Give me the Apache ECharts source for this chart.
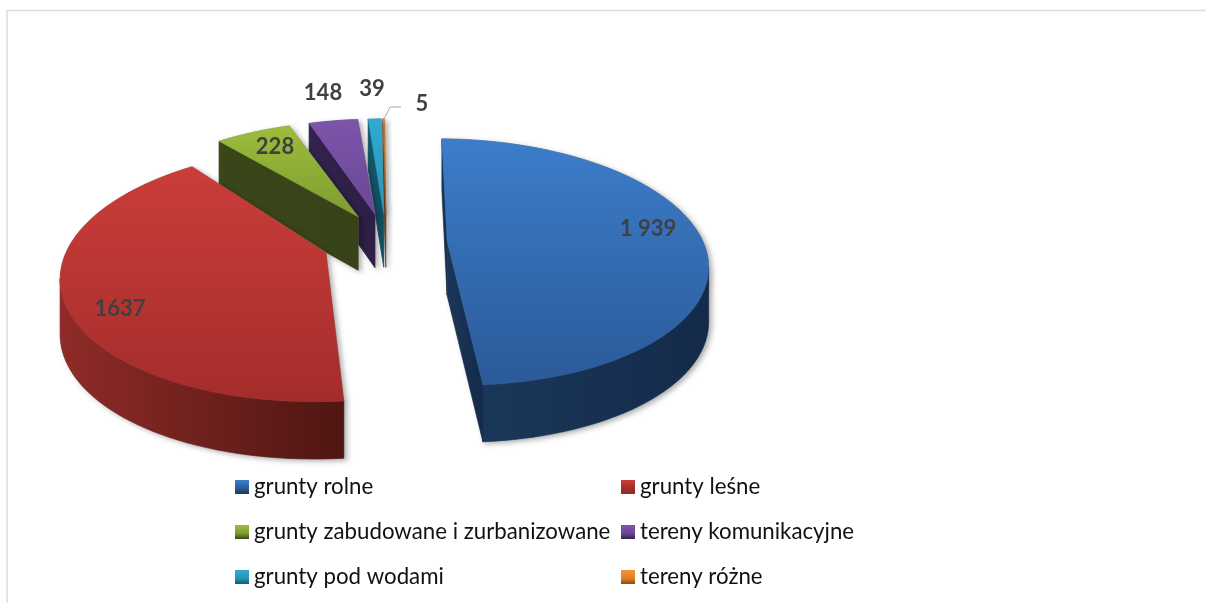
<!DOCTYPE html>
<html>
<head>
<meta charset="utf-8">
<style>
  html, body { margin: 0; padding: 0; background: #fff; }
  #chart { width: 1206px; height: 603px; }
</style>
<script src="https://cdn.jsdelivr.net/npm/echarts@6/dist/echarts.min.js"></script>
</head>
<body>
<div id="chart"></div>
<script>
  var categories = ['grunty rolne', 'grunty leśne', 'grunty zabudowane i zurbanizowane', 'tereny komunikacyjne', 'grunty pod wodami', 'tereny różne'];
  var values = [1939, 1637, 228, 148, 39, 5];
  var valueLabels = ['1 939', '1637', '228', '148', '39', '5'];

  // kolory: gora plasterka, sciana
  var topColors = [['#3c7dca', '#2b5a98'], ['#cb3d39', '#a32d2b'], ['#9cbd3c', '#7f9c30'], ['#7d55aa', '#6a4794'], ['#2fabd0', '#2a94b5'], ['#f59336', '#e07f26']];
  var wallColors = [['#1a3759', '#142a4a'], ['#8f2b28', '#4f1612'], ['#3a4618', '#37421a'], ['#33234e', '#2c1e44'], ['#125c70', '#0f4f60'], ['#8a4c14', '#8a4c14']];
  var labelPos = [[648, 229], [120, 309], [275, 147], [323, 93], [372, 89], [422, 104]];
  var legendPos = [[235, 476], [621, 476], [235, 521], [621, 521], [235, 566], [621, 566]];
  // perspektywa Excela lekko obraca tylne plasterki (stopnie)
  var sliceTurn = [0, -1.2, -3.5, -2.1, -1.3, -1.3];

  // rzut perspektywiczny (jak wykres 3D w Excelu)
  var cx = 385, cy = 242, rx = 256, ry = 120, persp = 0.17, explode = 0.243, startDeg = 1;

  var total = values.reduce(function (a, b) { return a + b; }, 0);

  function project(deg, midDeg, r) {
    var t = deg * Math.PI / 180, m = midDeg * Math.PI / 180;
    var u = explode * Math.sin(m) + r * Math.sin(t);
    var v = -explode * Math.cos(m) - r * Math.cos(t);
    var w = 1 - persp * v;
    return { x: cx + rx * u / w, y: cy + ry * v / w, d: 54 + 3 * v };
  }

  function grad(c, horizontal) {
    return {
      type: 'linear', x: 0, y: 0, x2: horizontal ? 1 : 0, y2: horizontal ? 0 : 1,
      colorStops: [{ offset: 0, color: c[0] }, { offset: 1, color: c[1] }]
    };
  }

  function poly(points, fill, shadow) {
    var style = { fill: fill, stroke: fill, lineWidth: 0.5 };
    if (shadow) {
      style.shadowBlur = 5;
      style.shadowColor = 'rgba(0,0,0,0.3)';
      style.shadowOffsetX = 3;
      style.shadowOffsetY = 2;
    }
    return { type: 'polygon', shape: { points: points }, style: style };
  }

  function sliceItem(index) {
    return function (params, api) {
      var before = 0;
      for (var i = 0; i < index; i++) before += values[i];
      var a0 = startDeg + sliceTurn[index] + before / total * 360;
      var a1 = a0 + api.value(0) / total * 360;
      var mid = (a0 + a1) / 2 - sliceTurn[index];

      var apex = project(mid, mid, 0);
      var arc = [];
      var steps = Math.max(2, Math.ceil((a1 - a0) / 2));
      for (var s = 0; s <= steps; s++) arc.push(project(a0 + (a1 - a0) * s / steps, mid, 1));

      var topPts = [[apex.x, apex.y]].concat(arc.map(function (p) { return [p.x, p.y]; }));

      // sciany widoczne to te krawedzie, ktore ida w lewo
      var walls = [];
      function addWall(list) {
        var pts = [];
        list.forEach(function (p) { pts.push([p.x, p.y]); });
        list.slice().reverse().forEach(function (p) { pts.push([p.x, p.y + p.d]); });
        walls.push(pts);
      }
      var first = arc[0], last = arc[arc.length - 1];
      if (first.x < apex.x) addWall([apex, first]);
      var run = [];
      for (var k = 0; k < arc.length - 1; k++) {
        if (arc[k + 1].x < arc[k].x) {
          if (!run.length) run.push(arc[k]);
          run.push(arc[k + 1]);
        }
      }
      if (run.length) addWall(run);
      if (apex.x < last.x) addWall([last, apex]);

      var children = [];
      walls.forEach(function (w) { children.push(poly(w, '#777', true)); });
      children.push(poly(topPts, '#777', true));
      walls.forEach(function (w) { children.push(poly(w, grad(wallColors[index], true))); });
      children.push(poly(topPts, grad(topColors[index])));

      children.push({
        type: 'text',
        style: {
          x: labelPos[index][0], y: labelPos[index][1], text: valueLabels[index],
          align: 'center', verticalAlign: 'middle',
          font: 'bold 22px Lato', fill: '#404040'
        }
      });
      if (index === 5) {
        children.push({
          type: 'polyline',
          shape: { points: [[last.x, last.y - 1], [390, 107], [401, 107]] },
          style: { fill: 'none', stroke: '#a6a6a6', lineWidth: 1 }
        });
      }
      return { type: 'group', children: children };
    };
  }

  // rysowane od tylu do przodu
  var order = [5, 4, 3, 2, 1, 0];
  var series = order.map(function (i) {
    return {
      type: 'custom',
      name: categories[i],
      coordinateSystem: 'none',
      silent: true,
      data: [[values[i]]],
      itemStyle: { color: topColors[i][0] },
      renderItem: sliceItem(i)
    };
  });

  var legends = categories.map(function (name, i) {
    return {
      left: legendPos[i][0], top: legendPos[i][1],
      padding: 0, itemWidth: 14, itemHeight: 14,
      icon: 'rect', selectedMode: false,
      data: [{
        name: name,
        itemStyle: {
          color: {
            type: 'linear', x: 0, y: 0, x2: 0, y2: 1,
            colorStops: [{ offset: 0, color: topColors[i][0] }, { offset: 0.6, color: topColors[i][1] }, { offset: 1, color: wallColors[i][0] }]
          }
        }
      }],
      textStyle: { fontFamily: 'Lato', fontSize: 22.25, color: '#111' }
    };
  });

  var myChart = echarts.init(document.getElementById('chart'));
  myChart.setOption({
    animation: false,
    backgroundColor: '#fff',
    legend: legends,
    series: series,
    graphic: [
      { type: 'polyline', shape: { points: [[7, 603], [7, 10.5], [1206, 10.5]] }, style: { fill: 'none', stroke: '#dcdcdc', lineWidth: 1.5 } }
    ]
  });
</script>
</body>
</html>
